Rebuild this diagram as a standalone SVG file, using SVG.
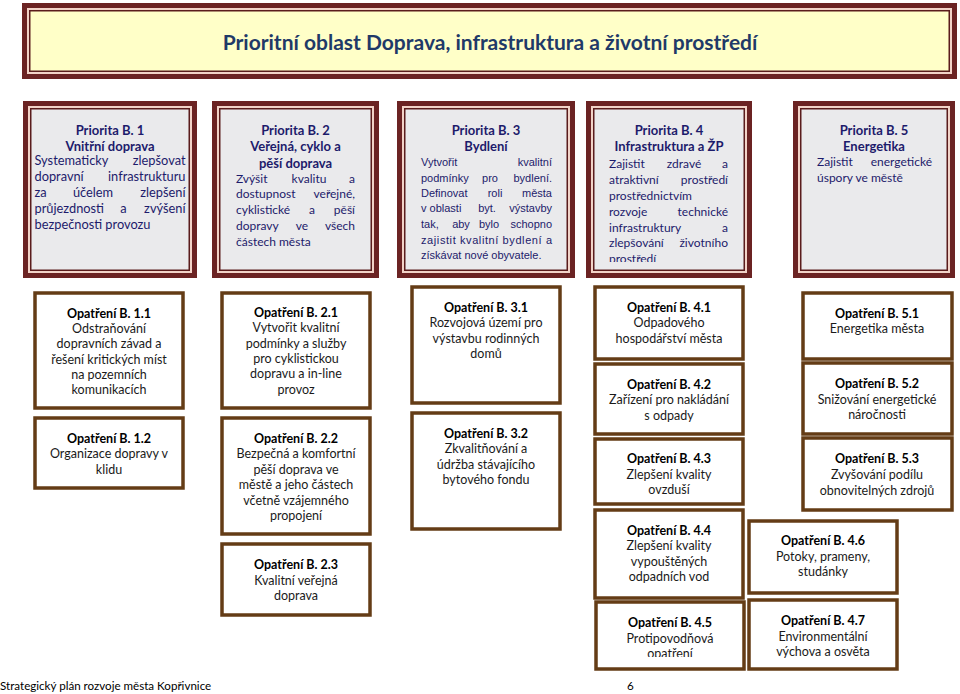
<svg xmlns="http://www.w3.org/2000/svg" width="960" height="694" viewBox="0 0 960 694">
<style>
.fo{fill:#6b2323}
.fp{fill:#f2d3c8}
.fd{fill:#5a1c1c}
.fg{fill:#eaeaec}
.fy{fill:#ffffc8}
.pt{font-family:Lato,"Open Sans",sans-serif;font-weight:bold;font-size:13px;fill:#1d1b6b;text-anchor:middle}
.pb{font-family:Lato,"Open Sans",sans-serif;font-size:12px;fill:#1d1b6b}
.p13{font-size:12.8px}
.pa{font-family:"Liberation Sans",Arial,sans-serif;font-size:11px;fill:#1d1b6b}
.e{text-anchor:end}
.m{text-anchor:middle}
.ob{fill:#ffffff;stroke:#643c16;stroke-width:3.5}
.ot{font-family:Lato,"Open Sans",sans-serif;font-weight:bold;font-size:12.5px;fill:#000;text-anchor:middle}
.ox{font-family:Lato,"Open Sans",sans-serif;font-size:12.5px;fill:#1a1a1a;text-anchor:middle}
.ft{font-family:Lato,"Open Sans",sans-serif;font-size:11.6px;fill:#000}
</style>
<defs>
<clipPath id="c4"><rect x="594" y="108" width="150" height="154"/></clipPath>
<clipPath id="c45"><rect x="596" y="602" width="148" height="55"/></clipPath>
</defs>
<rect width="960" height="694" fill="#ffffff"/>

<g id="title">
<rect class="fo" x="22" y="3" width="935" height="76"/>
<rect class="fp" x="27" y="8" width="925" height="66"/>
<rect class="fd" x="29" y="10" width="921" height="62"/>
<rect class="fy" x="30.5" y="11.5" width="918" height="59"/>
<text x="490" y="50" font-family="Lato,'Open Sans',sans-serif" font-weight="bold" font-size="21" fill="#1f3a68" text-anchor="middle">Prioritní oblast Doprava, infrastruktura a životní prostředí</text>
</g>

<g id="priorita-b1">
<rect class="fo" x="23" y="101" width="174" height="177"/>
<rect class="fp" x="28" y="106" width="164" height="167"/>
<rect class="fd" x="30" y="108" width="160" height="163"/>
<rect class="fg" x="31.5" y="109.5" width="157" height="160"/>
<text class="pt" x="110" y="135">Priorita B. 1</text>
<text class="pt" x="110" y="151">Vnitřní doprava</text>
<text class="pb p13" x="34.5" y="165">Systematicky</text><text class="pb p13 e" x="185.5" y="165">zlepšovat</text>
<text class="pb p13" x="34.5" y="181">dopravní</text><text class="pb p13 e" x="185.5" y="181">infrastrukturu</text>
<text class="pb p13" x="34.5" y="197">za</text><text class="pb p13 m" x="93" y="197">účelem</text><text class="pb p13 e" x="185.5" y="197">zlepšení</text>
<text class="pb p13" x="34.5" y="213">průjezdnosti</text><text class="pb p13 m" x="123.5" y="213">a</text><text class="pb p13 e" x="185.5" y="213">zvýšení</text>
<text class="pb p13" x="34.5" y="229">bezpečnosti provozu</text>
</g>

<g id="priorita-b2">
<rect class="fo" x="212" y="101" width="167" height="177"/>
<rect class="fp" x="217" y="106" width="157" height="167"/>
<rect class="fd" x="219" y="108" width="153" height="163"/>
<rect class="fg" x="220.5" y="109.5" width="150" height="160"/>
<text class="pt" x="295.5" y="135">Priorita B. 2</text>
<text class="pt" x="295.5" y="151">Veřejná, cyklo a</text>
<text class="pt" x="295.5" y="168">pěší doprava</text>
<text class="pb" x="236" y="183">Zvýšit</text><text class="pb m" x="309" y="183">kvalitu</text><text class="pb e" x="355" y="183">a</text>
<text class="pb" x="236" y="198">dostupnost</text><text class="pb e" x="355" y="198">veřejné,</text>
<text class="pb" x="236" y="214">cyklistické</text><text class="pb m" x="312" y="214">a</text><text class="pb e" x="355" y="214">pěší</text>
<text class="pb" x="236" y="230">dopravy</text><text class="pb m" x="302" y="230">ve</text><text class="pb e" x="355" y="230">všech</text>
<text class="pb" x="236" y="246">částech města</text>
</g>

<g id="priorita-b3">
<rect class="fo" x="397" y="101" width="178" height="177"/>
<rect class="fp" x="402" y="106" width="168" height="167"/>
<rect class="fd" x="404" y="108" width="164" height="163"/>
<rect class="fg" x="405.5" y="109.5" width="161" height="160"/>
<text class="pt" x="486" y="135">Priorita B. 3</text>
<text class="pt" x="486" y="151">Bydlení</text>
<text class="pa" x="421" y="166">Vytvořit</text><text class="pa e" x="552" y="166">kvalitní</text>
<text class="pa" x="421" y="182">podmínky</text><text class="pa m" x="490" y="182">pro</text><text class="pa e" x="552" y="182">bydlení.</text>
<text class="pa" x="421" y="197">Definovat</text><text class="pa m" x="495" y="197">roli</text><text class="pa e" x="552" y="197">města</text>
<text class="pa" x="421" y="212">v oblasti</text><text class="pa m" x="487" y="212">byt.</text><text class="pa e" x="552" y="212">výstavby</text>
<text class="pa" x="421" y="228">tak,</text><text class="pa m" x="461" y="228">aby</text><text class="pa m" x="489" y="228">bylo</text><text class="pa e" x="552" y="228">schopno</text>
<text class="pa" x="421" y="244" textLength="131" lengthAdjust="spacing">zajistit kvalitní bydlení a</text>
<text class="pa" x="421" y="259">získávat nové obyvatele.</text>
</g>

<g id="priorita-b4">
<rect class="fo" x="586" y="101" width="166" height="177"/>
<rect class="fp" x="591" y="106" width="156" height="167"/>
<rect class="fd" x="593" y="108" width="152" height="163"/>
<rect class="fg" x="594.5" y="109.5" width="149" height="160"/>
<text class="pt" x="669" y="135">Priorita B. 4</text>
<text class="pt" x="669" y="151">Infrastruktura a ŽP</text>
<g clip-path="url(#c4)">
<text class="pb" x="609" y="168">Zajistit</text><text class="pb m" x="684" y="168">zdravé</text><text class="pb e" x="728" y="168">a</text>
<text class="pb" x="609" y="184">atraktivní</text><text class="pb e" x="728" y="184">prostředí</text>
<text class="pb" x="609" y="200">prostřednictvím</text>
<text class="pb" x="609" y="216">rozvoje</text><text class="pb e" x="728" y="216">technické</text>
<text class="pb" x="609" y="232">infrastruktury</text><text class="pb e" x="728" y="232">a</text>
<text class="pb" x="609" y="247">zlepšování</text><text class="pb e" x="728" y="247">životního</text>
<text class="pb" x="609" y="263">prostředí</text>
</g>
</g>

<g id="priorita-b5">
<rect class="fo" x="793" y="101" width="162" height="177"/>
<rect class="fp" x="798" y="106" width="152" height="167"/>
<rect class="fd" x="800" y="108" width="148" height="163"/>
<rect class="fg" x="801.5" y="109.5" width="145" height="160"/>
<text class="pt" x="874" y="135">Priorita B. 5</text>
<text class="pt" x="874" y="151">Energetika</text>
<text class="pb" x="817" y="166">Zajistit</text><text class="pb e" x="932" y="166">energetické</text>
<text class="pb" x="817" y="182">úspory ve městě</text>
</g>

<g id="opatreni-b11">
<rect class="ob" x="35" y="293" width="148" height="115"/>
<text class="ot" x="109" y="318">Opatření B. 1.1</text>
<text class="ox" x="109" y="333">Odstraňování</text>
<text class="ox" x="109" y="348">dopravních závad a</text>
<text class="ox" x="109" y="364">řešení kritických míst</text>
<text class="ox" x="109" y="379">na pozemních</text>
<text class="ox" x="109" y="394">komunikacích</text>
</g>
<g id="opatreni-b12">
<rect class="ob" x="35" y="418" width="148" height="70"/>
<text class="ot" x="109" y="443">Opatření B. 1.2</text>
<text class="ox" x="109" y="458">Organizace dopravy v</text>
<text class="ox" x="109" y="474">klidu</text>
</g>

<g id="opatreni-b21">
<rect class="ob" x="222" y="293" width="148" height="115"/>
<text class="ot" x="296" y="317">Opatření B. 2.1</text>
<text class="ox" x="296" y="332">Vytvořit kvalitní</text>
<text class="ox" x="296" y="348">podmínky a služby</text>
<text class="ox" x="296" y="363">pro cyklistickou</text>
<text class="ox" x="296" y="378">dopravu a in-line</text>
<text class="ox" x="296" y="394">provoz</text>
</g>
<g id="opatreni-b22">
<rect class="ob" x="222" y="418" width="148" height="116"/>
<text class="ot" x="296" y="443">Opatření B. 2.2</text>
<text class="ox" x="296" y="458">Bezpečná a komfortní</text>
<text class="ox" x="296" y="474">pěší doprava ve</text>
<text class="ox" x="296" y="489">městě a jeho částech</text>
<text class="ox" x="296" y="505">včetně vzájemného</text>
<text class="ox" x="296" y="520">propojení</text>
</g>
<g id="opatreni-b23">
<rect class="ob" x="222" y="544" width="148" height="71"/>
<text class="ot" x="296" y="569">Opatření B. 2.3</text>
<text class="ox" x="296" y="585">Kvalitní veřejná</text>
<text class="ox" x="296" y="600">doprava</text>
</g>

<g id="opatreni-b31">
<rect class="ob" x="412" y="287" width="148" height="116"/>
<text class="ot" x="486" y="312">Opatření B. 3.1</text>
<text class="ox" x="486" y="327">Rozvojová území pro</text>
<text class="ox" x="486" y="343">výstavbu rodinných</text>
<text class="ox" x="486" y="358">domů</text>
</g>
<g id="opatreni-b32">
<rect class="ob" x="412" y="413" width="148" height="116"/>
<text class="ot" x="486" y="438">Opatření B. 3.2</text>
<text class="ox" x="486" y="453">Zkvalitňování a</text>
<text class="ox" x="486" y="469">údržba stávajícího</text>
<text class="ox" x="486" y="484">bytového fondu</text>
</g>

<g id="opatreni-b41">
<rect class="ob" x="595" y="287" width="148" height="72"/>
<text class="ot" x="669" y="312">Opatření B. 4.1</text>
<text class="ox" x="669" y="327">Odpadového</text>
<text class="ox" x="669" y="343">hospodářství města</text>
</g>
<g id="opatreni-b42">
<rect class="ob" x="595" y="364" width="148" height="70"/>
<text class="ot" x="669" y="389">Opatření B. 4.2</text>
<text class="ox" x="669" y="404">Zařízení pro nakládání</text>
<text class="ox" x="669" y="420">s odpady</text>
</g>
<g id="opatreni-b43">
<rect class="ob" x="595" y="439" width="148" height="65"/>
<text class="ot" x="669" y="463">Opatření B. 4.3</text>
<text class="ox" x="669" y="479">Zlepšení kvality</text>
<text class="ox" x="669" y="494">ovzduší</text>
</g>
<g id="opatreni-b44">
<rect class="ob" x="595" y="510" width="148" height="88"/>
<text class="ot" x="669" y="535">Opatření B. 4.4</text>
<text class="ox" x="669" y="550">Zlepšení kvality</text>
<text class="ox" x="669" y="566">vypouštěných</text>
<text class="ox" x="669" y="581">odpadních vod</text>
</g>
<g id="opatreni-b45">
<rect class="ob" x="596" y="602" width="148" height="67"/>
<text class="ot" x="670" y="627">Opatření B. 4.5</text>
<text class="ox" x="670" y="643">Protipovodňová</text>
<text class="ox" x="670" y="658" clip-path="url(#c45)">opatření</text>
</g>
<g id="opatreni-b46">
<rect class="ob" x="749" y="521" width="148" height="72"/>
<text class="ot" x="823" y="545">Opatření B. 4.6</text>
<text class="ox" x="823" y="561">Potoky, prameny,</text>
<text class="ox" x="823" y="576">studánky</text>
</g>
<g id="opatreni-b47">
<rect class="ob" x="749" y="600" width="148" height="69"/>
<text class="ot" x="823" y="625">Opatření B. 4.7</text>
<text class="ox" x="823" y="641">Environmentální</text>
<text class="ox" x="823" y="656">výchova a osvěta</text>
</g>

<g id="opatreni-b51">
<rect class="ob" x="803" y="293" width="149" height="66"/>
<text class="ot" x="877" y="318">Opatření B. 5.1</text>
<text class="ox" x="877" y="333">Energetika města</text>
</g>
<g id="opatreni-b52">
<rect class="ob" x="803" y="363" width="149" height="71"/>
<text class="ot" x="877" y="388">Opatření B. 5.2</text>
<text class="ox" x="877" y="404">Snižování energetické</text>
<text class="ox" x="877" y="419">náročnosti</text>
</g>
<g id="opatreni-b53">
<rect class="ob" x="803" y="438" width="149" height="72"/>
<text class="ot" x="877" y="463">Opatření B. 5.3</text>
<text class="ox" x="877" y="479">Zvyšování podílu</text>
<text class="ox" x="877" y="495">obnovitelných zdrojů</text>
</g>

<g id="connectors"></g>

<g id="footer">
<text class="ft" x="0" y="690">Strategický plán rozvoje města Kopřivnice</text>
<text class="ft" x="627" y="690">6</text>
</g>
</svg>
